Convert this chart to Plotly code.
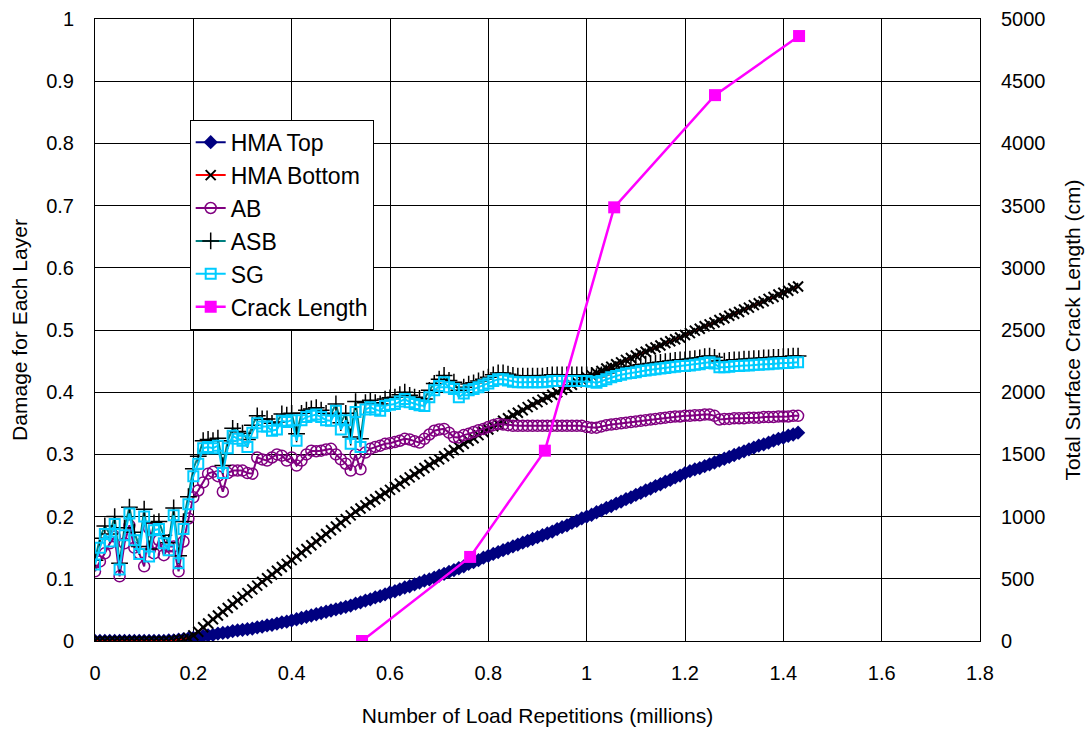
import plotly.graph_objects as go

# x positions (millions of load repetitions)
reps = [
    0.00, 0.01, 0.02, 0.03, 0.04, 0.05, 0.06, 0.07, 0.08, 0.09,
    0.10, 0.11, 0.12, 0.13, 0.14, 0.15, 0.16, 0.17, 0.18, 0.19,
    0.20, 0.21, 0.22, 0.23, 0.24, 0.25, 0.26, 0.27, 0.28, 0.29,
    0.30, 0.31, 0.32, 0.33, 0.34, 0.35, 0.36, 0.37, 0.38, 0.39,
    0.40, 0.41, 0.42, 0.43, 0.44, 0.45, 0.46, 0.47, 0.48, 0.49,
    0.50, 0.51, 0.52, 0.53, 0.54, 0.55, 0.56, 0.57, 0.58, 0.59,
    0.60, 0.61, 0.62, 0.63, 0.64, 0.65, 0.66, 0.67, 0.68, 0.69,
    0.70, 0.71, 0.72, 0.73, 0.74, 0.75, 0.76, 0.77, 0.78, 0.79,
    0.80, 0.81, 0.82, 0.83, 0.84, 0.85, 0.86, 0.87, 0.88, 0.89,
    0.90, 0.91, 0.92, 0.93, 0.94, 0.95, 0.96, 0.97, 0.98, 0.99,
    1.00, 1.01, 1.02, 1.03, 1.04, 1.05, 1.06, 1.07, 1.08, 1.09,
    1.10, 1.11, 1.12, 1.13, 1.14, 1.15, 1.16, 1.17, 1.18, 1.19,
    1.20, 1.21, 1.22, 1.23, 1.24, 1.25, 1.26, 1.27, 1.28, 1.29,
    1.30, 1.31, 1.32, 1.33, 1.34, 1.35, 1.36, 1.37, 1.38, 1.39,
    1.40, 1.41, 1.42, 1.43,
]

hma_top = [
    0, 0, 0, 0, 0, 0, 0, 0, 0, 0,
    0, 0, 0, 0, 0, 0.001, 0.001, 0.002, 0.003, 0.004,
    0.005, 0.006, 0.008, 0.009, 0.010, 0.012, 0.013, 0.014, 0.016, 0.017,
    0.018, 0.019, 0.020, 0.022, 0.023, 0.025, 0.026, 0.028, 0.030, 0.031,
    0.033, 0.035, 0.037, 0.039, 0.041, 0.043, 0.045, 0.047, 0.049, 0.051,
    0.053, 0.055, 0.057, 0.060, 0.062, 0.065, 0.067, 0.070, 0.072, 0.075,
    0.078, 0.080, 0.083, 0.086, 0.088, 0.091, 0.094, 0.097, 0.099, 0.102,
    0.105, 0.108, 0.111, 0.114, 0.117, 0.120, 0.124, 0.127, 0.130, 0.134,
    0.137, 0.140, 0.143, 0.146, 0.149, 0.152, 0.155, 0.158, 0.161, 0.164,
    0.167, 0.170, 0.173, 0.176, 0.180, 0.183, 0.186, 0.190, 0.193, 0.197,
    0.200, 0.203, 0.207, 0.210, 0.214, 0.217, 0.221, 0.224, 0.228, 0.231,
    0.235, 0.238, 0.242, 0.245, 0.249, 0.252, 0.256, 0.259, 0.263, 0.266,
    0.270, 0.273, 0.276, 0.278, 0.281, 0.284, 0.287, 0.290, 0.293, 0.296,
    0.299, 0.302, 0.305, 0.308, 0.311, 0.314, 0.316, 0.319, 0.322, 0.325,
    0.327, 0.330, 0.332, 0.335,
]

hma_bottom = [
    0, 0, 0, 0, 0, 0, 0, 0, 0, 0,
    0, 0, 0, 0, 0, 0, 0.001, 0.002, 0.003, 0.005,
    0.009, 0.015, 0.022, 0.028, 0.035, 0.041, 0.047, 0.053, 0.059, 0.065,
    0.071, 0.077, 0.083, 0.089, 0.095, 0.101, 0.107, 0.113, 0.119, 0.124,
    0.130, 0.136, 0.142, 0.148, 0.154, 0.160, 0.166, 0.172, 0.178, 0.184,
    0.190, 0.196, 0.202, 0.208, 0.213, 0.218, 0.223, 0.228, 0.233, 0.238,
    0.243, 0.248, 0.253, 0.258, 0.263, 0.268, 0.273, 0.278, 0.283, 0.288,
    0.292, 0.297, 0.302, 0.307, 0.312, 0.317, 0.322, 0.326, 0.331, 0.336,
    0.340, 0.345, 0.349, 0.354, 0.358, 0.363, 0.367, 0.371, 0.376, 0.380,
    0.384, 0.388, 0.392, 0.396, 0.400, 0.404, 0.408, 0.412, 0.416, 0.420,
    0.424, 0.427, 0.431, 0.434, 0.438, 0.441, 0.445, 0.448, 0.452, 0.455,
    0.459, 0.462, 0.465, 0.469, 0.472, 0.475, 0.479, 0.482, 0.485, 0.488,
    0.492, 0.495, 0.499, 0.502, 0.506, 0.509, 0.512, 0.516, 0.519, 0.523,
    0.526, 0.529, 0.533, 0.536, 0.540, 0.543, 0.546, 0.550, 0.553, 0.557,
    0.560, 0.563, 0.567, 0.570,
]

ab = [
    0.112, 0.128, 0.141, 0.157, 0.168, 0.104, 0.157, 0.186, 0.150, 0.141,
    0.120, 0.181, 0.141, 0.162, 0.138, 0.152, 0.152, 0.112, 0.160, 0.197,
    0.231, 0.242, 0.255, 0.269, 0.272, 0.265, 0.240, 0.270, 0.274, 0.274,
    0.274, 0.270, 0.269, 0.295, 0.292, 0.290, 0.295, 0.300, 0.298, 0.290,
    0.295, 0.282, 0.290, 0.300, 0.306, 0.305, 0.306, 0.308, 0.309, 0.300,
    0.292, 0.285, 0.274, 0.300, 0.276, 0.303, 0.309, 0.312, 0.314, 0.317,
    0.318, 0.320, 0.322, 0.325, 0.324, 0.321, 0.319, 0.325, 0.332, 0.338,
    0.340, 0.341, 0.335, 0.328, 0.327, 0.331, 0.333, 0.336, 0.339, 0.341,
    0.344, 0.347, 0.349, 0.348, 0.347, 0.346, 0.346, 0.346, 0.346, 0.346,
    0.346, 0.346, 0.346, 0.346, 0.346, 0.346, 0.346, 0.346, 0.346, 0.346,
    0.344, 0.343, 0.343, 0.345, 0.347, 0.348, 0.349, 0.350, 0.351, 0.352,
    0.353, 0.354, 0.355, 0.356, 0.357, 0.358, 0.359, 0.360, 0.361, 0.361,
    0.362, 0.362, 0.363, 0.363, 0.364, 0.364, 0.362, 0.356, 0.357, 0.357,
    0.358, 0.358, 0.358, 0.359, 0.359, 0.359, 0.360, 0.360, 0.360, 0.361,
    0.361, 0.361, 0.362, 0.362,
]

asb = [
    0.130, 0.165, 0.185, 0.172, 0.200, 0.125, 0.182, 0.215, 0.175, 0.152,
    0.212, 0.148, 0.190, 0.192, 0.170, 0.158, 0.214, 0.137, 0.192, 0.232,
    0.277, 0.297, 0.322, 0.324, 0.322, 0.326, 0.282, 0.322, 0.342, 0.337,
    0.334, 0.324, 0.347, 0.362, 0.357, 0.357, 0.350, 0.352, 0.365, 0.363,
    0.366, 0.333, 0.366, 0.371, 0.373, 0.375, 0.371, 0.366, 0.365, 0.381,
    0.351, 0.366, 0.328, 0.385, 0.325, 0.383, 0.387, 0.383, 0.381, 0.389,
    0.391, 0.392, 0.396, 0.400, 0.395, 0.392, 0.390, 0.389, 0.403, 0.414,
    0.421, 0.427, 0.419, 0.416, 0.403, 0.408, 0.413, 0.415, 0.418, 0.421,
    0.424, 0.428, 0.431, 0.431, 0.429, 0.427, 0.426, 0.426, 0.426, 0.426,
    0.426, 0.426, 0.427, 0.428, 0.428, 0.428, 0.428, 0.428, 0.428, 0.428,
    0.428, 0.427, 0.425, 0.428, 0.431, 0.434, 0.436, 0.438, 0.440, 0.441,
    0.442, 0.444, 0.445, 0.446, 0.447, 0.448, 0.449, 0.450, 0.451, 0.452,
    0.452, 0.453, 0.454, 0.455, 0.457, 0.458, 0.456, 0.450, 0.450, 0.451,
    0.452, 0.452, 0.453, 0.453, 0.454, 0.454, 0.455, 0.455, 0.456, 0.456,
    0.457, 0.457, 0.458, 0.458,
]

sg = [
    0.123, 0.150, 0.172, 0.160, 0.188, 0.115, 0.170, 0.205, 0.162, 0.140,
    0.200, 0.136, 0.178, 0.180, 0.157, 0.146, 0.202, 0.125, 0.180, 0.220,
    0.265, 0.285, 0.310, 0.312, 0.310, 0.314, 0.270, 0.310, 0.330, 0.325,
    0.322, 0.312, 0.335, 0.350, 0.345, 0.345, 0.338, 0.340, 0.354, 0.352,
    0.355, 0.322, 0.355, 0.360, 0.362, 0.364, 0.360, 0.355, 0.354, 0.370,
    0.340, 0.355, 0.317, 0.368, 0.312, 0.372, 0.376, 0.372, 0.370, 0.378,
    0.380, 0.381, 0.385, 0.389, 0.384, 0.381, 0.379, 0.378, 0.392, 0.403,
    0.410, 0.416, 0.408, 0.405, 0.392, 0.398, 0.403, 0.405, 0.408, 0.411,
    0.414, 0.418, 0.421, 0.421, 0.419, 0.417, 0.416, 0.416, 0.416, 0.416,
    0.416, 0.416, 0.417, 0.418, 0.418, 0.418, 0.418, 0.418, 0.418, 0.418,
    0.418, 0.417, 0.415, 0.418, 0.421, 0.424, 0.426, 0.428, 0.430, 0.431,
    0.432, 0.434, 0.435, 0.436, 0.437, 0.438, 0.439, 0.440, 0.441, 0.442,
    0.442, 0.443, 0.444, 0.445, 0.447, 0.448, 0.446, 0.440, 0.440, 0.441,
    0.442, 0.442, 0.443, 0.443, 0.444, 0.444, 0.445, 0.445, 0.446, 0.446,
    0.447, 0.447, 0.448, 0.448,
]

crack_reps = [0.543, 0.763, 0.915, 1.056, 1.261, 1.432]
crack_len = [0, 676, 1530, 3486, 4388, 4863]

FONT = "Liberation Sans, Arial, sans-serif"

fig = go.Figure()

fig.add_trace(go.Scatter(
    x=reps, y=hma_top, name="HMA Top", mode="lines+markers", legendgroup="a",
    line=dict(color="#000080", width=2),
    marker=dict(symbol="diamond", size=11, color="#000080"),
))
fig.add_trace(go.Scatter(
    x=reps, y=hma_bottom, name="HMA Bottom", mode="lines+markers", legendgroup="b",
    line=dict(color="#FF0000", width=2),
    marker=dict(symbol="x-thin", size=10, color="#000000",
                line=dict(color="#000000", width=2)),
))
fig.add_trace(go.Scatter(
    x=reps, y=ab, name="AB", mode="lines+markers", legendgroup="c",
    line=dict(color="#800080", width=2),
    marker=dict(symbol="circle-open", size=11, color="#800080",
                line=dict(color="#800080", width=1.5)),
))
fig.add_trace(go.Scatter(
    x=reps, y=asb, name="ASB", mode="lines+markers", legendgroup="d",
    line=dict(color="#008080", width=2),
    marker=dict(symbol="cross-thin", size=12, color="#000000",
                line=dict(color="#000000", width=1.5)),
))
fig.add_trace(go.Scatter(
    x=reps, y=sg, name="SG", mode="lines+markers", legendgroup="e",
    line=dict(color="#00CCFF", width=2),
    marker=dict(symbol="square-open", size=10, color="#00CCFF",
                line=dict(color="#00CCFF", width=2)),
))
fig.add_trace(go.Scatter(
    x=crack_reps, y=crack_len, name="Crack Length", mode="lines+markers",
    legendgroup="f", yaxis="y2",
    line=dict(color="#FF00FF", width=2.5),
    marker=dict(symbol="square", size=12, color="#FF00FF"),
))

axis_common = dict(
    showline=True, linecolor="black", linewidth=1, zeroline=False,
    ticks="", tickfont=dict(family=FONT, size=20, color="black"),
    automargin=False,
)

fig.update_layout(
    width=1092, height=730,
    margin=dict(l=95, r=112, t=19, b=89),
    paper_bgcolor="white", plot_bgcolor="white",
    font=dict(family=FONT, size=20, color="black"),
    showlegend=True,
    legend=dict(
        x=0.107, y=0.838, xanchor="left", yanchor="top",
        bgcolor="white", bordercolor="black", borderwidth=1,
        font=dict(family=FONT, size=23, color="black"),
        tracegroupgap=9, traceorder="normal",
    ),
    xaxis=dict(
        range=[0, 1.8], dtick=0.2, tick0=0, mirror=True,
        showgrid=True, gridcolor="black", gridwidth=1,
        ticklabelstandoff=14,
        title=dict(text="Number of Load Repetitions (millions)",
                   font=dict(family=FONT, size=21), standoff=25),
        **axis_common,
    ),
    yaxis=dict(
        range=[0, 1], dtick=0.1, tick0=0, mirror=True,
        showgrid=True, gridcolor="black", gridwidth=1,
        ticklabelstandoff=16,
        title=dict(text="Damage for Each Layer",
                   font=dict(family=FONT, size=21), standoff=12),
        **axis_common,
    ),
    yaxis2=dict(
        range=[0, 5000], dtick=500, tick0=0, overlaying="y", side="right",
        showgrid=False, ticklabelstandoff=16,
        title=dict(text="Total Surface Crack Length (cm)",
                   font=dict(family=FONT, size=21), standoff=20),
        **axis_common,
    ),
)

fig.write_html("out.html")
